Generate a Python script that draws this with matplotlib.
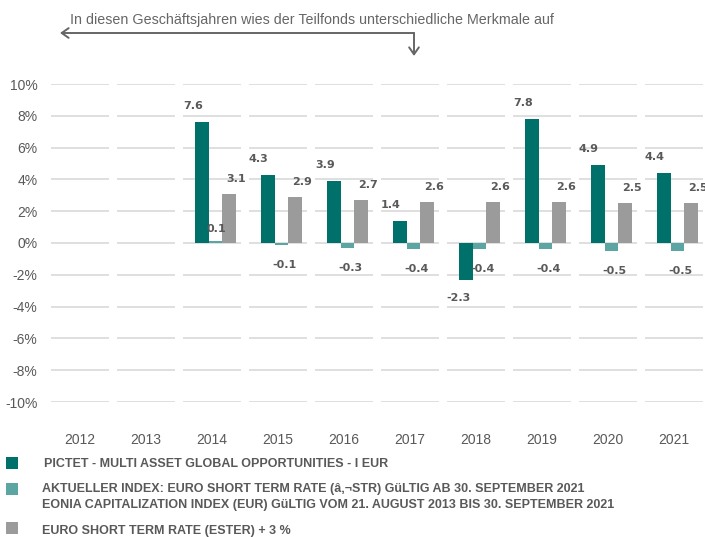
import matplotlib
matplotlib.use('Agg')
import matplotlib.pyplot as plt
from matplotlib.patches import Rectangle, FancyArrowPatch
import numpy as np

years = ['2012', '2013', '2014', '2015', '2016', '2017', '2018', '2019', '2020', '2021']
fund = [None, None, 7.6, 4.3, 3.9, 1.4, -2.3, 7.8, 4.9, 4.4]
index = [None, None, 0.1, -0.1, -0.3, -0.4, -0.4, -0.4, -0.5, -0.5]
ester3 = [None, None, 3.1, 2.9, 2.7, 2.6, 2.6, 2.6, 2.5, 2.5]
yticks = [-10, -8, -6, -4, -2, 0, 2, 4, 6, 8, 10]

legend_labels = [
    'PICTET - MULTI ASSET GLOBAL OPPORTUNITIES - I EUR',
    'AKTUELLER INDEX: EURO SHORT TERM RATE (â‚¬STR) GüLTIG AB 30. SEPTEMBER 2021\n'
    'EONIA CAPITALIZATION INDEX (EUR) GüLTIG VOM 21. AUGUST 2013 BIS 30. SEPTEMBER 2021',
    'EURO SHORT TERM RATE (ESTER) + 3 %',
]

c_fund = '#00706b'
c_index = '#5ba5a3'
c_ester = '#9b9b9b'
txt = '#595959'
narrow = ['Liberation Sans Narrow', 'Liberation Sans', 'DejaVu Sans']

W, H = 705, 537
fig = plt.figure(figsize=(W / 100, H / 100), dpi=100)
ax = fig.add_axes([47 / W, (H - 402) / H, 660 / W, 318 / H])

x = np.arange(len(years))
bw = 0.205
shift = 0.05

# segmented gridlines
for t in yticks:
    for i in x:
        ax.hlines(t, i - 0.445, i + 0.445, color='#d9d9d9', lw=1.2, zorder=0)

px = 0.72  # points per pixel


def lab(xp, v, dx, dy):
    ax.annotate(f'{v:.1f}', (xp, v), xytext=(dx * px, dy * px), textcoords='offset points',
                ha='center', va='center', fontsize=8, fontweight='bold', color=txt)


for i in x:
    if fund[i] is None:
        continue
    xf, xi, xe = i - bw + shift, i + shift, i + bw + shift
    ax.bar(xf, fund[i], bw, color=c_fund, zorder=2)
    ax.bar(xi, index[i], bw, color=c_index, zorder=2)
    ax.bar(xe, ester3[i], bw, color=c_ester, zorder=2)
    if fund[i] >= 0:
        lab(xf, fund[i], -9, 16)
    else:
        lab(xf, fund[i], -7, -18)
    if index[i] >= 0:
        lab(xi, index[i], 1, 12)
    else:
        lab(xi, index[i], 3, -20)
    lab(xe, ester3[i], 7, 15)

ax.set_xlim(-0.5, len(years) - 0.5)
ax.set_ylim(-10, 10)
ax.set_yticks(yticks)
ax.set_yticklabels([f'{t}%' for t in yticks])
ax.set_xticks(x)
ax.set_xticklabels(years)
for s in ax.spines.values():
    s.set_visible(False)
ax.tick_params(length=0, colors=txt, labelsize=10)
ax.tick_params(axis='y', pad=7)
ax.tick_params(axis='x', pad=22)
for t in ax.get_xticklabels() + ax.get_yticklabels():
    t.set_family(['Liberation Sans', 'DejaVu Sans'])

# top annotation
fig.text(70 / W, 1 - 20 / H, 'In diesen Geschäftsjahren wies der Teilfonds unterschiedliche Merkmale auf',
         fontsize=10.3, color='#666666', va='center', ha='left', family=narrow)
fig.add_artist(FancyArrowPatch((414 / W, 1 - 33 / H), (60 / W, 1 - 33 / H), transform=fig.transFigure,
                               arrowstyle='->,head_length=5,head_width=3.5', color='#666666', lw=1.4,
                               shrinkA=0, shrinkB=0))
fig.add_artist(FancyArrowPatch((414 / W, 1 - 33 / H), (414 / W, 1 - 56 / H), transform=fig.transFigure,
                               arrowstyle='->,head_length=5,head_width=3.5', color='#666666', lw=1.4,
                               shrinkA=0, shrinkB=0))

# legend
leg = [(c_fund, 463, 44, 464), (c_index, 489, 42, 497), (c_ester, 528, 42, 531)]
for (c, ys, xt, yt), label in zip(leg, legend_labels):
    fig.add_artist(Rectangle((6 / W, 1 - (ys + 6) / H), 12 / W, 12 / H, transform=fig.transFigure,
                             color=c, lw=0))
    fig.text(xt / W, 1 - yt / H, label, fontsize=9, fontweight='bold', color=txt,
             va='center', ha='left', family=narrow, linespacing=1.45)

fig.savefig('out.png', dpi=100)
